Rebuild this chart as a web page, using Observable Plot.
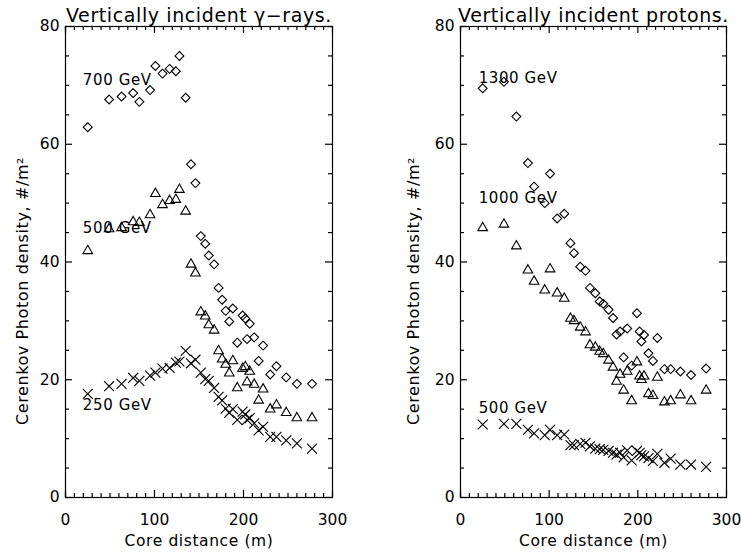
<!DOCTYPE html>
<html><head><meta charset="utf-8">
<script src="https://cdn.jsdelivr.net/npm/d3@7"></script>
<script src="https://cdn.jsdelivr.net/npm/@observablehq/plot@0.6"></script>
<style>
body{margin:0;background:#fff;}
#wrap{display:flex;width:741px;height:552px;overflow:hidden;}
</style></head><body><div id="wrap"></div>
<script>
const coreDistance = [25,49,63,76,83,95,101,109,117,124,128,135,141,146,152,157,161,167,172,176,180,184,188,193,199,202,204,207,212,217,222,230,237,248,260,277];

const gamma700 = [62.9,67.6,68.1,68.7,67.2,69.2,73.3,72.0,72.8,72.4,75.0,67.9,56.6,53.4,44.4,43.1,41.1,39.6,35.6,33.6,31.7,29.9,32.1,26.3,30.9,30.4,26.9,29.5,27.2,23.2,25.8,20.9,22.3,20.4,19.3,19.3];
const gamma500 = [41.9,45.6,45.8,46.8,46.7,48.0,51.6,49.7,50.4,50.6,52.3,48.6,39.6,38.1,31.5,30.8,29.3,28.4,24.9,23.5,22.6,21.1,23.2,18.6,21.9,22.2,19.6,21.4,19.2,16.5,18.4,15.0,15.7,14.4,13.5,13.5];
const gamma250 = [17.6,18.9,19.3,20.3,19.8,20.7,21.2,21.9,22.0,22.9,23.1,24.9,22.8,23.4,21.2,20.1,19.8,18.6,17.1,16.5,15.1,14.4,15.0,13.2,14.6,14.1,13.2,13.5,12.6,11.4,12.0,10.3,10.3,9.7,9.2,8.3];

const proton1300 = [69.5,70.6,64.7,56.8,52.8,50.0,55.0,47.4,48.2,43.2,41.5,39.2,38.5,35.6,34.7,33.3,32.9,31.9,30.5,27.7,28.2,23.8,28.7,22.4,31.3,28.2,26.5,27.6,24.5,23.2,27.1,21.8,21.8,21.4,20.8,21.9];
const proton1000 = [45.8,46.4,42.7,38.6,36.7,35.2,38.8,34.7,33.8,30.4,30.0,28.9,28.1,25.9,25.5,24.8,24.4,23.3,22.1,19.7,20.9,18.2,21.4,16.4,23.0,20.6,20.0,20.6,17.6,17.3,20.4,16.2,16.4,17.4,16.4,18.2];
const proton500 = [12.4,12.5,12.5,11.5,10.9,10.6,11.5,10.6,10.7,8.9,8.9,9.1,9.3,8.7,8.3,8.2,8.1,7.9,7.6,7.3,7.6,6.8,8.0,6.3,7.9,7.6,7.2,7.0,6.7,6.2,7.4,5.9,6.6,5.6,5.6,5.2];

const gammaLabelText = ["700 GeV","500 GeV","250 GeV"];
const gammaLabelX = [19.5,19.5,19.5];
const gammaLabelY = [70.8,45.7,15.6];
const protonLabelText = ["1300 GeV","1000 GeV","500 GeV"];
const protonLabelX = [20.5,20.5,20.5];
const protonLabelY = [71.2,50.9,15.2];

const xMajor = [0,100,200,300];
const xMinor = [0,10,20,30,40,50,60,70,80,90,110,120,130,140,150,160,170,180,190,210,220,230,240,250,260,270,280,290];
const yMajor = [0,20,40,60,80];
const yMinor = [5,10,15,25,30,35,45,50,55,65,70,75];

const xLabel = "Core distance (m)";
const yLabel = "Cerenkov Photon density, #/m²";

const FONT = "'DejaVu Sans', sans-serif";
const HEIGHT = 552, MT = 26, MB = 55;
const MINOR_PX = 4, MAJOR_PX = 7;

function panel({title, series, labelText, labelX, labelY, width, marginLeft, marginRight, yLabelDx}) {
  const labels = labelText.map((t,i)=>({t, x: labelX[i], y: labelY[i]}));
  const fh = HEIGHT - MT - MB, fw = width - marginLeft - marginRight;
  // tick lengths converted from pixels to data units of each axis
  const ky = 80 / fh, kx = 300 / fw;
  const rule = {stroke: "#000", strokeWidth: 1.2};
  const tickMarks = [];
  for (const [vals, px] of [[xMinor, MINOR_PX], [xMajor, MAJOR_PX]]) {
    tickMarks.push(Plot.ruleX(vals, {...rule, x: d => d, y1: 0, y2: px * ky}));
    tickMarks.push(Plot.ruleX(vals, {...rule, x: d => d, y1: 80, y2: 80 - px * ky}));
  }
  for (const [vals, px] of [[yMinor, MINOR_PX], [yMajor, MAJOR_PX]]) {
    tickMarks.push(Plot.ruleY(vals, {...rule, y: d => d, x1: 0, x2: px * kx}));
    tickMarks.push(Plot.ruleY(vals, {...rule, y: d => d, x1: 300, x2: 300 - px * kx}));
  }
  const svg = Plot.plot({
    width, height: HEIGHT, marginLeft, marginRight, marginTop: MT, marginBottom: MB,
    style: {fontFamily: FONT, fontSize: "15px", color: "#000", background: "#fff", overflow: "visible"},
    x: {domain: [0,300]},
    y: {domain: [0,80]},
    marks: [
      Plot.frame({stroke: "#000", strokeWidth: 1.2}),
      ...tickMarks,
      Plot.axisX({anchor:"bottom", ticks: xMajor, tickSize: 0, tickPadding: 16, tickFormat: d3.format("d"), label: xLabel, labelAnchor: "center", labelOffset: 48, labelArrow: "none", fontSize: 15.5}),
      Plot.axisY({anchor:"left", ticks: yMajor, tickSize: 0, tickPadding: 6, tickFormat: d3.format("d"), label: null, fontSize: 15.5}),
      Plot.text([yLabel], {frameAnchor: "left", textAnchor: "middle", rotate: -90, dx: yLabelDx, dy: 29, fontSize: 16, fill: "#000"}),
      ...series.map(s => Plot.dot(s.values.map((v,i)=>({x: coreDistance[i], y: v})), {x:"x", y:"y", symbol: s.symbol, r: s.r, stroke:"#000", strokeWidth: 1.1, fill:"none"})),
      Plot.text(labels, {x:"x", y:"y", text:"t", textAnchor:"start", fontSize: 15, fill:"#000"}),
      Plot.text([title], {frameAnchor: "top", lineAnchor: "bottom", dy: -5, fontSize: 19, fill: "#000"})
    ]
  });
  const spaced = new Set([title, xLabel, yLabel, ...labelText]);
  d3.select(svg).selectAll("text").filter(function() { return spaced.has(this.textContent); }).style("letter-spacing", "0.6px");
  return svg;
}

const wrap = document.getElementById("wrap");
wrap.append(panel({
  title: "Vertically incident γ−rays.",
  series: [
    {values: gamma700, symbol: "diamond2", r: 4},
    {values: gamma500, symbol: "triangle2", r: 4.6},
    {values: gamma250, symbol: "times", r: 4.6}
  ],
  labelText: gammaLabelText, labelX: gammaLabelX, labelY: gammaLabelY,
  width: 370, marginLeft: 65, marginRight: 38, yLabelDx: -43
}));
wrap.append(panel({
  title: "Vertically incident protons.",
  series: [
    {values: proton1300, symbol: "diamond2", r: 4},
    {values: proton1000, symbol: "triangle2", r: 4.6},
    {values: proton500, symbol: "times", r: 4.6}
  ],
  labelText: protonLabelText, labelX: protonLabelX, labelY: protonLabelY,
  width: 371, marginLeft: 90, marginRight: 15, yLabelDx: -47
}));
</script></body></html>
